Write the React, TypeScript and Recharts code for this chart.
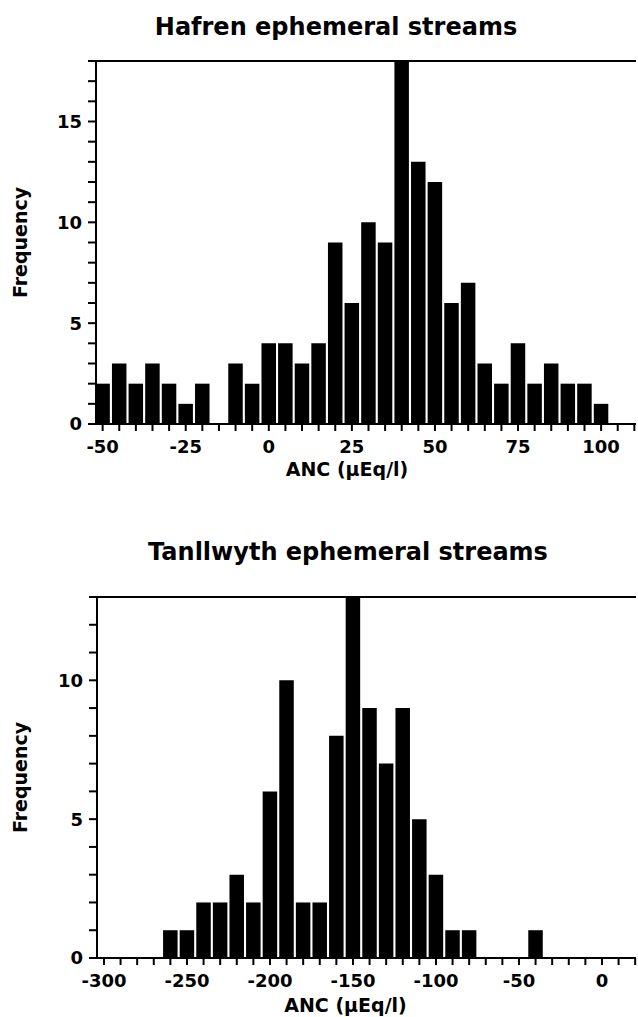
import React from "react";
import { BarChart, Bar, XAxis, YAxis, ReferenceLine } from "recharts";

// Hafren: bins of 5 µEq/l, centred on the value
const hafrenBins = [-50, -45, -40, -35, -30, -25, -20, -15, -10, -5, 0, 5, 10, 15, 20, 25, 30, 35, 40, 45, 50, 55, 60, 65, 70, 75, 80, 85, 90, 95, 100];
const hafrenCounts = [2, 3, 2, 3, 2, 1, 2, 0, 3, 2, 4, 4, 3, 4, 9, 6, 10, 9, 18, 13, 12, 6, 7, 3, 2, 4, 2, 3, 2, 2, 1];
const hafrenXTicks = [-50, -45, -40, -35, -30, -25, -20, -15, -10, -5, 0, 5, 10, 15, 20, 25, 30, 35, 40, 45, 50, 55, 60, 65, 70, 75, 80, 85, 90, 95, 100, 105, 110];
const hafrenYTicks = [0, 1, 2, 3, 4, 5, 6, 7, 8, 9, 10, 11, 12, 13, 14, 15, 16, 17, 18];

// Tanllwyth: bins of 10 µEq/l
const tanBins = [-300, -290, -280, -270, -260, -250, -240, -230, -220, -210, -200, -190, -180, -170, -160, -150, -140, -130, -120, -110, -100, -90, -80, -70, -60, -50, -40, -30, -20, -10, 0];
const tanCounts = [0, 0, 0, 0, 1, 1, 2, 2, 3, 2, 6, 10, 2, 2, 8, 13, 9, 7, 9, 5, 3, 1, 1, 0, 0, 0, 1, 0, 0, 0, 0];
const tanXTicks = [-300, -290, -280, -270, -260, -250, -240, -230, -220, -210, -200, -190, -180, -170, -160, -150, -140, -130, -120, -110, -100, -90, -80, -70, -60, -50, -40, -30, -20, -10, 0, 10, 20];
const tanYTicks = [0, 1, 2, 3, 4, 5, 6, 7, 8, 9, 10, 11, 12, 13];

const FONT = "DejaVu Sans";
const tickStyle = { fill: "#000", fontSize: 18, fontWeight: "bold", fontFamily: FONT };
const labelStyle = { fill: "#000", fontSize: 19, fontWeight: "bold", fontFamily: FONT };

const hafrenData = hafrenBins.map((x, i) => ({ x, count: hafrenCounts[i] }));
const tanData = tanBins.map((x, i) => ({ x, count: tanCounts[i] }));

const titleStyle: React.CSSProperties = {
    position: "absolute",
    width: 600,
    textAlign: "center",
    fontFamily: FONT,
    fontWeight: "bold",
    fontSize: 24,
    lineHeight: "24px",
    color: "#000",
};

export default function App() {
    return (
        <div style={{ position: "absolute", left: 0, top: 0, width: 638, height: 1017, overflow: "hidden", background: "#fff" }}>
            <div style={{ ...titleStyle, left: 336 - 300, top: 15 }}>Hafren ephemeral streams</div>
            <div style={{ position: "absolute", left: 0, top: 0 }}>
                <BarChart width={638} height={490} data={hafrenData} margin={{ top: 61, right: 2, left: 0, bottom: 0 }}>
                    <XAxis dataKey="x" type="number" domain={[-52, 110.5]} allowDataOverflow ticks={hafrenXTicks}
                           interval={0} tickFormatter={(v: number) => (v % 25 === 0 && v <= 100 ? String(v) : "")}
                           height={66} tickSize={7} tickMargin={9} tick={tickStyle}
                           axisLine={{ stroke: "#000", strokeWidth: 2 }} tickLine={{ stroke: "#000", strokeWidth: 2 }}
                           label={{ value: "ANC (\u03bcEq/l)", position: "insideBottom", offset: 14, dx: -19, style: labelStyle }}/>
                    <YAxis type="number" domain={[0, 18]} allowDataOverflow ticks={hafrenYTicks} interval={0}
                           tickFormatter={(v: number) => (v % 5 === 0 ? String(v) : "")}
                           width={96} tickSize={8} tickMargin={6} tick={tickStyle}
                           axisLine={{ stroke: "#000", strokeWidth: 2 }} tickLine={{ stroke: "#000", strokeWidth: 2 }}
                           label={{ value: "Frequency", angle: -90, position: "insideLeft", offset: 20, style: { ...labelStyle, textAnchor: "middle" } }}/>
                    <ReferenceLine y={18} stroke="#000" strokeWidth={2}/>
                    <Bar dataKey="count" fill="#000" barSize={14.5} isAnimationActive={false}/>
                </BarChart>
            </div>

            <div style={{ ...titleStyle, left: 348 - 300, top: 540 }}>Tanllwyth ephemeral streams</div>
            <div style={{ position: "absolute", left: 0, top: 540 }}>
                <BarChart width={638} height={477} data={tanData} margin={{ top: 57, right: 2, left: 0, bottom: 0 }}>
                    <XAxis dataKey="x" type="number" domain={[-304.2, 20.5]} allowDataOverflow ticks={tanXTicks}
                           interval={0} tickFormatter={(v: number) => (v % 50 === 0 ? String(v) : "")}
                           height={59} tickSize={7} tickMargin={9} tick={tickStyle}
                           axisLine={{ stroke: "#000", strokeWidth: 2 }} tickLine={{ stroke: "#000", strokeWidth: 2 }}
                           label={{ value: "ANC (\u03bcEq/l)", position: "insideBottom", offset: 5, dx: -21, style: labelStyle }}/>
                    <YAxis type="number" domain={[0, 13]} allowDataOverflow ticks={tanYTicks} interval={0}
                           tickFormatter={(v: number) => (v % 5 === 0 ? String(v) : "")}
                           width={97} tickSize={8} tickMargin={6} tick={tickStyle}
                           axisLine={{ stroke: "#000", strokeWidth: 2 }} tickLine={{ stroke: "#000", strokeWidth: 2 }}
                           label={{ value: "Frequency", angle: -90, position: "insideLeft", offset: 20, style: { ...labelStyle, textAnchor: "middle" } }}/>
                    <ReferenceLine y={13} stroke="#000" strokeWidth={2}/>
                    <Bar dataKey="count" fill="#000" barSize={14.5} isAnimationActive={false}/>
                </BarChart>
            </div>
        </div>
    );
}
